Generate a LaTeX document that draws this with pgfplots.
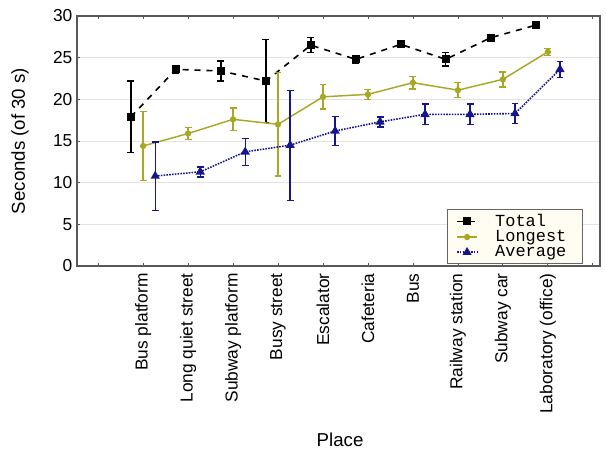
\documentclass[border=0pt]{standalone}
\usepackage{pgfplots}
\usepackage{pgfplotstable}
\pgfplotsset{compat=1.18}
\usepackage{fontspec}
\setmainfont{Liberation Sans}
\newfontfamily\monofont{Liberation Mono}
\definecolor{olivel}{RGB}{168,168,38}
\definecolor{navyl}{RGB}{22,22,140}
\definecolor{legfill}{RGB}{255,253,242}

\pgfplotstableread{
x y e
1 17.9 4.3
2 23.6 0.5
3 23.4 1.2
4 22.2 5.0
5 26.5 0.9
6 24.8 0.5
7 26.6 0.4
8 24.8 0.8
9 27.4 0.4
10 28.9 0.3
}\totaltab
\pgfplotstableread{
x y e
1 14.4 4.15
2 15.9 0.7
3 17.6 1.35
4 17.0 6.2
5 20.3 1.45
6 20.6 0.6
7 22.0 0.75
8 21.1 0.9
9 22.4 0.9
10 25.7 0.4
}\longtab
\pgfplotstableread{
x y e
1 10.8 4.1
2 11.3 0.6
3 13.7 1.6
4 14.5 6.6
5 16.2 1.75
6 17.3 0.6
7 18.2 1.25
8 18.2 1.25
9 18.3 1.2
10 23.6 0.95
}\avgtab

\begin{document}
\begin{tikzpicture}
\begin{axis}[
  at={(0,0)}, anchor=south west,
  scale only axis, width=392.25pt, height=187.5pt,
  xmin=-0.47, xmax=11.16, ymin=0, ymax=30,
  xtick={0,...,11},
  xticklabels={{},Bus platform,Long quiet street,Subway platform,Busy street,Escalator,Cafeteria,Bus,Railway station,Subway car,Laboratory (office),{}},
  xticklabel style={rotate=90, anchor=east, font=\fontsize{13}{15}\selectfont},
  xticklabel shift=2pt,
  ytick={0,5,...,30},
  yticklabel style={font=\fontsize{13}{15}\selectfont},
  /pgf/number format/assume math mode=true,
  ymajorgrids, grid style={gray!22},
  axis line style={gray!70!black, line width=0.8pt},
  tick style={gray!70!black, line width=0.6pt}, major tick length=2.5pt,
  tick align=inside,
  xtick pos=both, ytick pos=left,
  xlabel={Place}, ylabel={Seconds (of 30 s)},
  label style={font=\fontsize{14}{16}\selectfont},
  xlabel style={at={(axis description cs:0.503,-0.696)}, anchor=center},
  ylabel style={at={(axis description cs:-0.109,0.5)}, anchor=center},
  legend style={at={(axis description cs:0.9675,0.008)}, anchor=south east,
    fill=legfill, draw=gray!80!black, line width=0.7pt,
    font=\monofont\fontsize{12.7}{12}\selectfont,
    inner xsep=6.5pt, inner ysep=1.5pt, row sep=-2.5pt,
    /tikz/every odd column/.append style={column sep=11pt},
    /tikz/every even column/.append style={text width=57pt}},
  legend cell align=left,
  legend image code/.code={\draw[mark repeat=2,mark phase=2] plot coordinates {(0pt,0pt)(7.5pt,0pt)(15pt,0pt)};},
  error bars/y dir=both, error bars/y explicit,
]
\addplot[black, line width=1.2pt, dash pattern=on 4.5pt off 4.5pt,
  mark=square*, mark size=2.3pt, mark options={solid},
  error bars/error bar style={solid, line width=1pt},
  error bars/error mark options={rotate=90, mark size=2.6pt, solid, line width=1pt}]
  table[x expr=\thisrow{x}-0.27, y=y, y error=e] {\totaltab};
\addlegendentry{Total}
\addplot[olivel, line width=1.1pt,
  mark=*, mark size=1.8pt, mark options={solid},
  error bars/error bar style={solid, line width=1pt},
  error bars/error mark options={rotate=90, mark size=2.6pt, solid, line width=1pt}]
  table[x=x, y=y, y error=e] {\longtab};
\addlegendentry{Longest}
\addplot[navyl, line width=1.2pt, dash pattern=on 1.2pt off 0.9pt,
  mark=triangle*, mark size=2.8pt, mark options={solid},
  error bars/error bar style={solid, line width=1pt},
  error bars/error mark options={rotate=90, mark size=2.6pt, solid, line width=1pt}]
  table[x expr=\thisrow{x}+0.27, y=y, y error=e] {\avgtab};
\addlegendentry{Average}
\end{axis}
\pgfresetboundingbox
\path[use as bounding box] (-57.75pt,-141.75pt) rectangle (396.75pt,199.5pt);
\end{tikzpicture}
\end{document}
